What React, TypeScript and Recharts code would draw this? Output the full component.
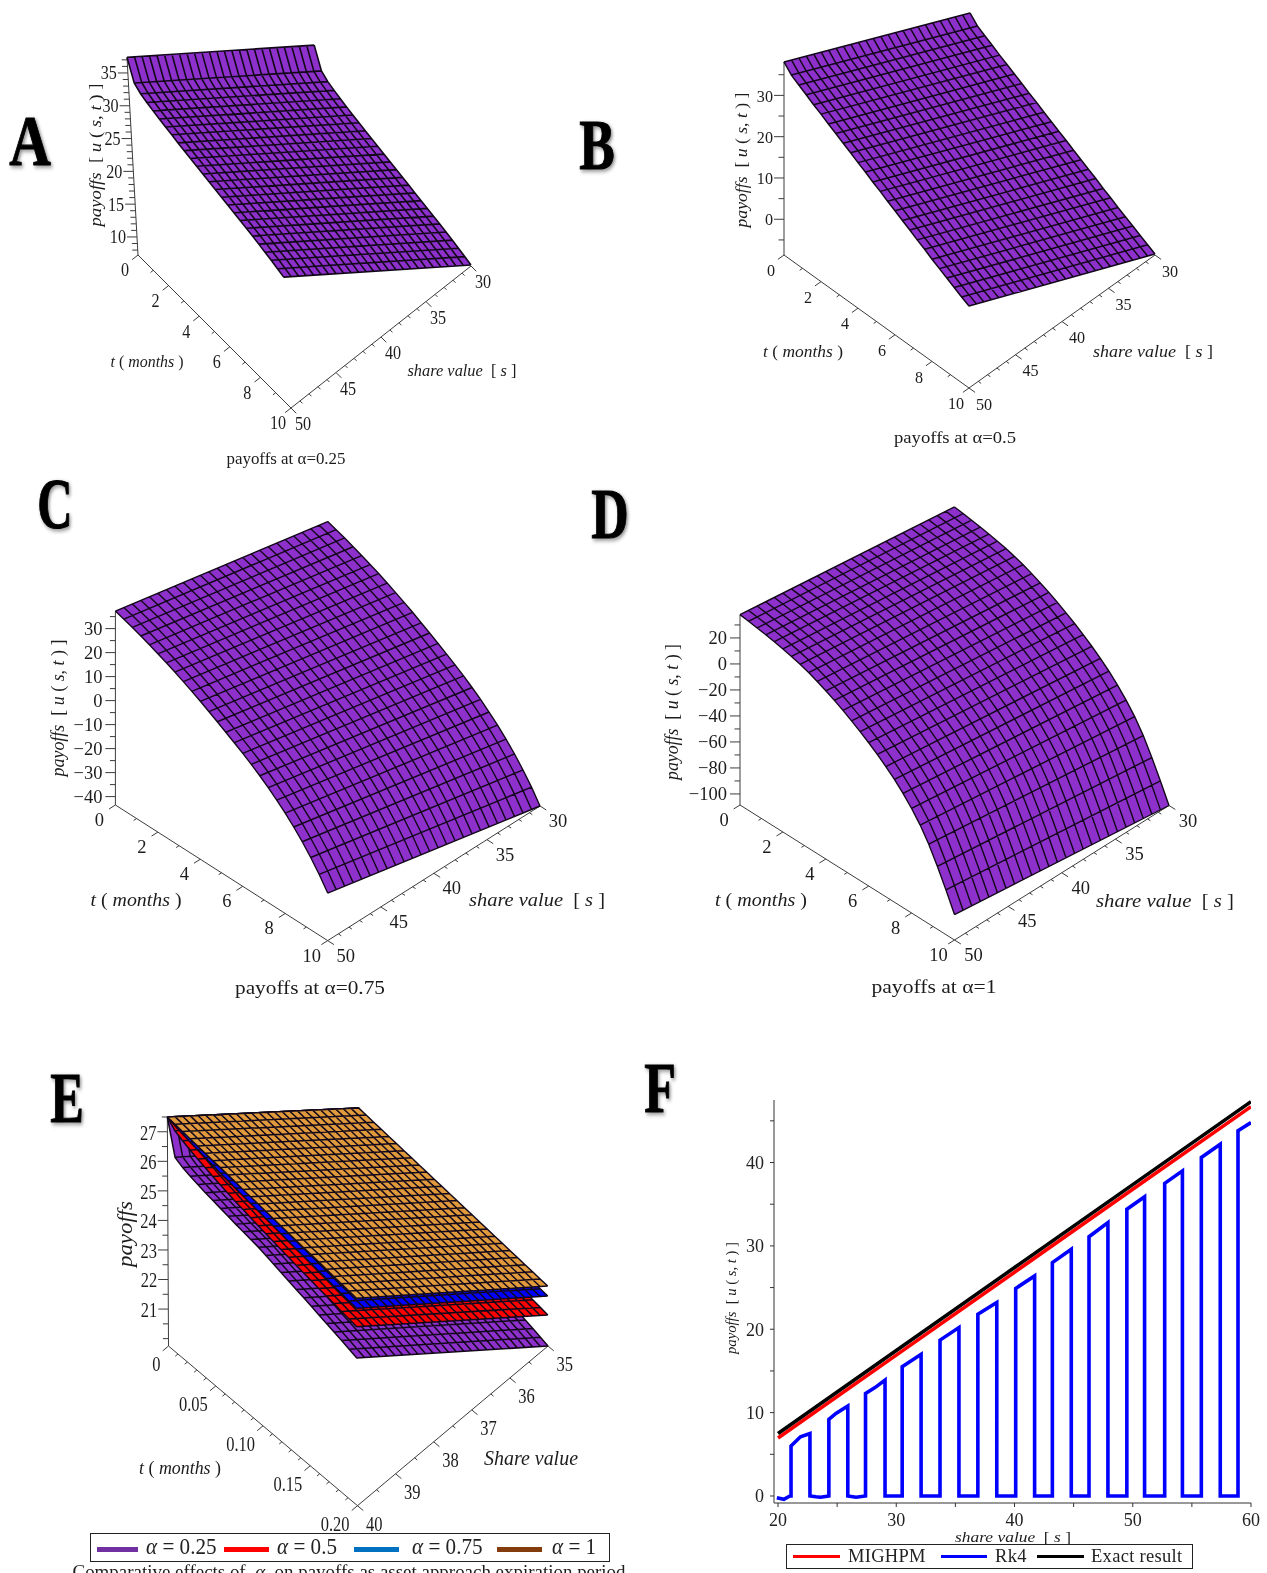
import React from 'react';
import { ComposedChart, LineChart, Line, Area, Scatter, XAxis, YAxis, Legend, Label } from 'recharts';

// ---------- surface data: share value mesh, time mesh, payoff along the two long edges ----------
const S_MESH = [30,30.8,31.6,32.4,33.2,34,34.8,35.6,36.4,37.2,38,38.8,39.6,40.4,41.2,42,42.8,43.6,44.4,45.2,46,46.8,47.6,48.4,49.2,50];
const T_MESH = [0,0.4,0.8,1.2,1.6,2,2.4,2.8,3.2,3.6,4,4.4,4.8,5.2,5.6,6,6.4,6.8,7.2,7.6,8,8.4,8.8,9.2,9.6,10];
const S_MESH_E = [35,35.2,35.4,35.6,35.8,36,36.2,36.4,36.6,36.8,37,37.2,37.4,37.6,37.8,38,38.2,38.4,38.6,38.8,39,39.2,39.4,39.6,39.8,40];
const T_MESH_E = [0,0.008,0.016,0.024,0.032,0.04,0.048,0.056,0.064,0.072,0.08,0.088,0.096,0.104,0.112,0.12,0.128,0.136,0.144,0.152,0.16,0.168,0.176,0.184,0.192,0.2];

const A_HIGH = [37.4,34.4,33.7,33.3,32.95,32.65,32.35,32.1,31.8,31.55,31.3,31.05,30.8,30.55,30.3,30.05,29.8,29.55,29.3,29.05,28.8,28.5,28.2,27.9,27.55,27.2];
const A_LOW = [17.6,14.6,13.9,13.5,13.15,12.85,12.55,12.3,12,11.75,11.5,11.25,11,10.75,10.5,10.25,10,9.75,9.5,9.25,9,8.7,8.4,8.1,7.75,7.4];
const B_HIGH = [38.1,36.2,35.1,34,32.9,31.9,30.8,29.8,28.7,27.7,26.6,25.6,24.5,23.5,22.4,21.4,20.3,19.3,18.2,17.2,16.1,15.1,14.1,13.1,12.1,11.2];
const B_LOW = [17.75,15.9,14.8,13.8,12.7,11.7,10.7,9.7,8.6,7.65,6.6,5.6,4.55,3.6,2.55,1.55,0.5,-0.45,-1.55,-2.5,-3.6,-4.55,-5.5,-6.5,-7.45,-8.4];
const C_HIGH = [37.3,36.2,35,33.7,32.3,30.8,29.3,27.7,26,24.2,22.3,20.3,18.3,16.2,14.1,11.9,9.6,7.1,4.4,1.5,-1.7,-5.2,-9.1,-13.4,-18.2,-23.7];
const C_LOW = [18.5,17.4,16.2,14.8,13.4,11.9,10.4,8.7,7,5.2,3.3,1.2,-0.8,-2.9,-5.1,-7.3,-9.6,-12.2,-14.9,-17.9,-21.1,-24.7,-28.6,-33,-37.9,-43.5];
const D_HIGH = [37.9,37,36,34.9,33.7,32.3,30.7,28.8,26.6,23.9,20.9,17.7,14.1,10.2,6.1,1.7,-3.1,-8.3,-14.1,-20.7,-28.1,-36.7,-47.3,-60.1,-74.1,-88.9];
const D_LOW = [17.3,16.4,15.4,14.3,13.1,11.7,10.2,8.3,6.1,3.4,0.4,-2.7,-6.3,-10.2,-14.2,-18.6,-23.4,-28.5,-34.3,-40.8,-48.2,-56.7,-67.2,-79.9,-93.8,-108.5];
const E1_HIGH = [27.5,26.35,26.22,26.14,26.08,26.02,25.97,25.92,25.87,25.82,25.78,25.73,25.69,25.62,25.55,25.48,25.41,25.34,25.27,25.2,25.12,25.05,24.98,24.91,24.83,24.75];
const E1_LOW = [22.4,21.35,21.22,21.14,21.08,21.02,20.97,20.92,20.87,20.82,20.78,20.73,20.69,20.62,20.55,20.48,20.41,20.34,20.27,20.2,20.12,20.05,19.98,19.91,19.83,19.75];
const E2_HIGH = [27.5,27.25,27.13,27.03,26.94,26.86,26.78,26.71,26.65,26.58,26.53,26.47,26.41,26.36,26.31,26.26,26.21,26.16,26.11,26.07,26.02,25.98,25.94,25.89,25.85,25.81];
const E2_LOW = [22.4,22.24,22.12,22.02,21.93,21.85,21.77,21.7,21.64,21.57,21.52,21.46,21.4,21.35,21.3,21.25,21.2,21.15,21.1,21.06,21.01,20.97,20.93,20.88,20.84,20.8];
const E3_HIGH = [27.5,27.42,27.36,27.3,27.25,27.2,27.16,27.11,27.07,27.03,26.99,26.95,26.91,26.87,26.83,26.79,26.75,26.71,26.68,26.64,26.6,26.57,26.53,26.5,26.46,26.43];
const E3_LOW = [22.4,22.33,22.28,22.23,22.19,22.15,22.12,22.08,22.04,22.01,21.97,21.93,21.9,21.86,21.82,21.78,21.74,21.71,21.68,21.64,21.6,21.57,21.53,21.5,21.47,21.44];
const E4_HIGH = [27.5,27.47,27.44,27.41,27.38,27.35,27.32,27.3,27.27,27.24,27.21,27.18,27.15,27.12,27.09,27.06,27.03,27,26.97,26.95,26.92,26.89,26.86,26.83,26.8,26.77];
const E4_LOW = [22.4,22.38,22.35,22.33,22.3,22.28,22.25,22.23,22.2,22.18,22.15,22.13,22.1,22.08,22.05,22.03,22,21.98,21.95,21.93,21.9,21.88,21.85,21.83,21.8,21.78];

// ---------- tick values ----------
const T_TICKS = [0,2,4,6,8,10];
const S_TICKS = [30,35,40,45,50];
const A_U_TICKS = [10,15,20,25,30,35];
const B_U_TICKS = [0,10,20,30];
const C_U_TICKS = [-40,-30,-20,-10,0,10,20,30];
const D_U_TICKS = [-100,-80,-60,-40,-20,0,20];
const E_U_TICKS = [21,22,23,24,25,26,27];
const E_T_TICKS = [0,0.05,0.1,0.15,0.2];
const E_S_TICKS = [35,36,37,38,39,40];

// ---------- panel F series ----------
const F_EXACT_S = [20,30,40,50,60];
const F_EXACT_U = [7.5,17.45,27.4,37.35,47.3];
const F_MIGHPM_S = [20,30,40,50,60];
const F_MIGHPM_U = [6.96,16.9,26.85,36.8,46.7];
const F_RK4_S = [19.9,20.5,21,21.1,21.1,21.9,22.7,22.7,23.2,23.6,24.3,24.3,24.9,25.9,25.9,26.6,27.4,27.4,28.2,29.05,29.05,30.5,30.5,32.1,32.1,33.7,33.7,35.3,35.3,36.9,36.9,38.5,38.5,40.1,40.1,41.7,41.7,43.2,43.2,44.8,44.8,46.3,46.3,47.9,47.9,49.5,49.5,51,51,52.7,52.7,54.2,54.2,55.8,55.8,57.4,57.4,58.9,58.9,60];
const F_RK4_U = [-0.2,-0.4,0,0,6,7.1,7.5,0,-0.1,-0.15,0,9.2,9.9,10.8,0,-0.15,0,12.3,13,13.9,0,0,15.5,17,0,0,18.7,20.2,0,0,21.8,23.2,0,0,24.9,26.4,0,0,28,29.6,0,0,31.1,32.8,0,0,34.4,35.9,0,0,37.5,39,0,0,40.6,42.2,0,0,43.8,44.8];
const F_X_TICKS = [20,25,30,35,40,45,50,55,60];
const F_Y_TICKS = [0,5,10,15,20,25,30,35,40,45];

const F_LEGEND_NAMES = ['MIGHPM','Rk4','Exact result'];
const E_LEGEND_NAMES = ['0.25','0.5','0.75','1'];

// ---------- styles and layout (separate from data) ----------
const SERIF = '"Liberation Serif", "Times New Roman", serif';
const PURPLE = '#8E30CC';
const MESH = '#12081a';
const AXIS = '#3c3c3c';
const F_COLORS = ['#ff0000','#0000ff','#000000'];
const E_LEGEND_COLORS = ['#7030a0','#ff0000','#0070c0','#843c0c'];

type Geo = { base:number[]; tEnd:number[]; sEnd:number[]; pxU:number; tilt:number; uBase:number; uTop:number;
  uMinor:number; tMinor:number; sMinor:number; font:number; sx:number; uDx:number; tOff:number[]; sOff:number[]; tAnchor?:string; meshW:number; };

const PANELS: any[] = [
  { s:S_MESH, t:T_MESH, layers:[{hi:A_HIGH,lo:A_LOW,fill:PURPLE}], uTicks:A_U_TICKS, tTicks:T_TICKS, sTicks:S_TICKS,
    geo:{base:[138,255],tEnd:[291,408],sEnd:[471,266],pxU:6.56,tilt:-0.365,uBase:7.25,uTop:37.4,uMinor:1,tMinor:1,sMinor:1,font:19,sx:0.85,uDx:-11,tOff:[-13,15],sOff:[12,16],meshW:1.6} as Geo },
  { s:S_MESH, t:T_MESH, layers:[{hi:B_HIGH,lo:B_LOW,fill:PURPLE}], uTicks:B_U_TICKS, tTicks:T_TICKS, sTicks:S_TICKS,
    geo:{base:[784,255],tEnd:[969,388],sEnd:[1155,255],pxU:4.13,tilt:0,uBase:-8.65,uTop:38.1,uMinor:5,tMinor:1,sMinor:1,font:17,sx:0.95,uDx:-11,tOff:[-13,15],sOff:[15,15.5],meshW:1.5} as Geo },
  { s:S_MESH, t:T_MESH, layers:[{hi:C_HIGH,lo:C_LOW,fill:PURPLE}], uTicks:C_U_TICKS, tTicks:T_TICKS, sTicks:S_TICKS,
    geo:{base:[115.4,805],tEnd:[327.7,940.6],sEnd:[540,806],pxU:2.4,tilt:0,uBase:-43.5,uTop:37.3,uMinor:5,tMinor:1,sMinor:1,font:18.5,sx:1,uDx:-13,tOff:[-16,15],sOff:[18,15],meshW:1.4} as Geo },
  { s:S_MESH, t:T_MESH, layers:[{hi:D_HIGH,lo:D_LOW,fill:PURPLE}], uTicks:D_U_TICKS, tTicks:T_TICKS, sTicks:S_TICKS,
    geo:{base:[740,805],tEnd:[954.5,940],sEnd:[1169,805.5],pxU:1.3,tilt:0,uBase:-108.5,uTop:37.9,uMinor:10,tMinor:1,sMinor:1,font:18.5,sx:1,uDx:-13,tOff:[-16,15],sOff:[19,15],meshW:1.4} as Geo },
  { s:S_MESH_E, t:T_MESH_E, uTicks:E_U_TICKS, tTicks:E_T_TICKS, sTicks:E_S_TICKS,
    layers:[{hi:E1_HIGH,lo:E1_LOW,fill:PURPLE},{hi:E2_HIGH,lo:E2_LOW,fill:'#ff0000'},{hi:E3_HIGH,lo:E3_LOW,fill:'#0000ff'},{hi:E4_HIGH,lo:E4_LOW,fill:'#e09a3c'}],
    tFormat:(v:number)=> v===0 ? '0' : v.toFixed(2),
    geo:{base:[168.5,1346],tEnd:[357.5,1505.7],sEnd:[548,1346],pxU:29.55,tilt:-0.15,uBase:19.75,uTop:27.5,uMinor:0.5,tMinor:0.01,sMinor:0.5,font:22,sx:0.75,uDx:-11,tOff:[-8,17],sOff:[16.7,17],tAnchor:'end',meshW:1.5} as Geo },
];

// text rows: *...* marks italic runs
const LETTERS = [
  {text:'A',x:30,y:141,sx:0.8},{text:'B',x:597,y:145,sx:0.74},{text:'C',x:55,y:503,sx:0.68},
  {text:'D',x:610,y:514,sx:0.72},{text:'E',x:67,y:1098,sx:0.7},{text:'F',x:660,y:1088,sx:0.72},
];
const AXIS_TEXT = [
  {text:'*payoffs*  [ *u* ( *s*, *t* ) ]',x:95,y:155,rot:-90,len:143,size:17},
  {text:'*t* ( *months* )',x:147,y:361,len:73,size:17},
  {text:'*share value*  [ *s* ]',x:462,y:370,len:109,size:17},
  {text:'payoffs at α=0.25',x:286,y:458,len:119,size:16},
  {text:'*payoffs*  [ *u* ( *s*, *t* ) ]',x:741,y:160,rot:-90,len:135,size:17},
  {text:'*t* ( *months* )',x:803,y:351,len:80,size:17},
  {text:'*share value*  [ *s* ]',x:1153,y:351,len:120,size:17},
  {text:'payoffs at α=0.5',x:955,y:437,len:122,size:16},
  {text:'*payoffs*  [ *u* ( *s*, *t* ) ]',x:58,y:708,rot:-90,len:137,size:18},
  {text:'*t* ( *months* )',x:136,y:900,len:91,size:18},
  {text:'*share value*  [ *s* ]',x:537,y:900,len:136,size:18},
  {text:'payoffs at α=0.75',x:310,y:988,len:150,size:18},
  {text:'*payoffs*  [ *u* ( *s*, *t* ) ]',x:672,y:712,rot:-90,len:136,size:18},
  {text:'*t* ( *months* )',x:761,y:900,len:92,size:18},
  {text:'*share value*  [ *s* ]',x:1165,y:901,len:138,size:18},
  {text:'payoffs at α=1',x:934,y:987,len:125,size:18},
  {text:'*payoffs*',x:125,y:1234,rot:-90,len:66,size:21},
  {text:'*t* ( *months* )',x:180,y:1467,len:82,size:19},
  {text:'*Share value*',x:531,y:1458,len:94,size:21},
  {text:'Comparative effects of  *α*  on payoffs as asset approach expiration period',x:349,y:1572,len:553,size:18},
];

// ---------- geometry helpers ----------
function projector(p: any) {
  const g: Geo = p.geo;
  const sMin = p.s[0], sMax = p.s[p.s.length - 1], tMin = p.t[0], tMax = p.t[p.t.length - 1];
  return (s: number, t: number, u: number) => {
    const fs = (sMax - s) / (sMax - sMin), ft = (t - tMin) / (tMax - tMin), v = u - g.uBase;
    return {
      x: g.base[0] + ft * (g.tEnd[0] - g.base[0]) + fs * (g.sEnd[0] - g.tEnd[0]) + v * g.tilt,
      y: g.base[1] + ft * (g.tEnd[1] - g.base[1]) + fs * (g.sEnd[1] - g.tEnd[1]) - v * g.pxU,
    };
  };
}
const gap = (pt: {x:number}) => ({ x: pt.x, y: null as any });

function meshRows(p: any, layer: any) {
  const P = projector(p);
  const rows: any[] = [];
  const sMin = p.s[0], sMax = p.s[p.s.length - 1];
  p.t.forEach((t: number, j: number) => {
    const a = P(sMin, t, layer.lo[j]), b = P(sMax, t, layer.hi[j]);
    rows.push(a, b, gap(b));
  });
  p.s.forEach((s: number) => {
    const f = (s - sMin) / (sMax - sMin);
    let last: any = null;
    p.t.forEach((t: number, j: number) => {
      last = P(s, t, layer.lo[j] + f * (layer.hi[j] - layer.lo[j]));
      rows.push(last);
    });
    rows.push(gap(last));
  });
  return rows;
}

function bandRows(p: any, layer: any) {
  const P = projector(p);
  const sMin = p.s[0], sMax = p.s[p.s.length - 1];
  const ring = [
    ...p.t.map((t: number, j: number) => P(sMax, t, layer.hi[j])),
    ...[...p.t].reverse().map((t: number, j: number) => P(sMin, t, layer.lo[p.t.length - 1 - j])),
  ];
  const xs = Array.from(new Set(ring.map((q: any) => q.x))).sort((a: any, b: any) => a - b) as number[];
  return xs.map((x) => {
    let lo = Infinity, hi = -Infinity;
    ring.forEach((a: any, i: number) => {
      const b = ring[(i + 1) % ring.length];
      if (x < Math.min(a.x, b.x) || x > Math.max(a.x, b.x)) return;
      const ys = a.x === b.x ? [a.y, b.y] : [a.y + ((x - a.x) / (b.x - a.x)) * (b.y - a.y)];
      ys.forEach((y: number) => { lo = Math.min(lo, y); hi = Math.max(hi, y); });
    });
    return { x, band: [lo, hi] };
  });
}

function stepValues(from: number, to: number, step: number) {
  const out: number[] = [];
  for (let i = Math.ceil(from / step - 1e-6); i * step <= to + 1e-6; i++) out.push(i * step);
  return out;
}

function axisRows(p: any) {
  const g: Geo = p.geo;
  const P = projector(p);
  const sMin = p.s[0], sMax = p.s[p.s.length - 1], tMin = p.t[0], tMax = p.t[p.t.length - 1];
  const rows: any[] = [];
  const seg = (a: any, b: any) => { rows.push(a, b, gap(b)); };
  const unit = (a: number[], b: number[]) => { const dx = b[0]-a[0], dy = b[1]-a[1], n = Math.hypot(dx, dy); return [dx/n, dy/n]; };
  const along = unit(g.sEnd, g.tEnd);     // +s direction
  const across = unit(g.base, g.tEnd);    // +t direction
  const isMajor = (v: number, ticks: number[]) => ticks.some((m) => Math.abs(m - v) < 1e-6);

  seg(P(sMax, tMin, g.uBase), P(sMax, tMin, g.uTop));
  seg(P(sMax, tMin, g.uBase), P(sMax, tMax, g.uBase));
  seg(P(sMax, tMax, g.uBase), P(sMin, tMax, g.uBase));

  stepValues(g.uBase, g.uTop, g.uMinor).forEach((u) => {
    const q = P(sMax, tMin, u), len = isMajor(u, p.uTicks) ? 10 : 5.5;
    seg(q, { x: q.x - len, y: q.y });
  });
  stepValues(tMin, tMax, g.tMinor).forEach((t) => {
    const q = P(sMax, t, g.uBase), len = isMajor(t, p.tTicks) ? 7.5 : 3.5;
    seg(q, { x: q.x + along[0] * len, y: q.y + along[1] * len });
  });
  stepValues(sMin, sMax, g.sMinor).forEach((s) => {
    const q = P(s, tMax, g.uBase), len = isMajor(s, p.sTicks) ? 7.5 : 3.5;
    seg(q, { x: q.x + across[0] * len, y: q.y + across[1] * len });
  });
  return rows;
}

function tickLabelRows(p: any) {
  const g: Geo = p.geo;
  const P = projector(p);
  const sMax = p.s[p.s.length - 1], tMin = p.t[0], tMax = p.t[p.t.length - 1];
  const base = { size: g.font, sx: g.sx };
  const minus = (v: number) => String(v).replace('-', '−');
  const rows: any[] = [];
  p.uTicks.forEach((u: number) => {
    const q = P(sMax, tMin, u);
    rows.push({ ...base, text: minus(u), x: q.x + g.uDx, y: q.y, anchor: 'end' });
  });
  p.tTicks.forEach((t: number) => {
    const q = P(sMax, t, g.uBase);
    rows.push({ ...base, text: p.tFormat ? p.tFormat(t) : String(t), x: q.x + g.tOff[0], y: q.y + g.tOff[1], anchor: g.tAnchor });
  });
  p.sTicks.forEach((s: number) => {
    const q = P(s, tMax, g.uBase);
    rows.push({ ...base, text: String(s), x: q.x + g.sOff[0], y: q.y + g.sOff[1] });
  });
  return rows;
}

// ---------- text drawing ----------
function richText(r: any, x: number, y: number) {
  const parts = String(r.text).split('*');
  const tf = `translate(${x} ${y}) rotate(${r.rot || 0}) scale(${r.sx || 1} 1)`;
  return (
    <text transform={tf} x={0} y={0} textAnchor={r.anchor || 'middle'} dominantBaseline="central"
      fontFamily={SERIF} fontSize={r.size} fill={r.fill || '#1c1c1c'} fontWeight={r.weight || 'normal'}
      textLength={r.len} lengthAdjust={r.len ? 'spacingAndGlyphs' : undefined}
      stroke={r.stroke} strokeWidth={r.stroke ? 1 : undefined}
      style={{ whiteSpace: 'pre', filter: r.shadow ? 'drop-shadow(2px 2px 2px rgba(0,0,0,0.45))' : undefined }}>
      {parts.map((part, i) => (part ? <tspan key={i} fontStyle={i % 2 ? 'italic' : 'normal'}>{part}</tspan> : null))}
    </text>
  );
}
const LabelShape = (props: any) => richText(props.payload, props.cx, props.cy);

const letterRows = LETTERS.map((l) => ({ ...l, size: 72, weight: 'bold', fill: '#000', stroke: '#000', shadow: true }));
const textRows = [...letterRows, ...AXIS_TEXT, ...PANELS.flatMap(tickLabelRows)];

// ---------- legends ----------
const swatch = (left: number, width: number, color: string, h: number, top: number) => (
  <div key={color + left} style={{ position: 'absolute', left, width, top, height: h, background: color }} />
);
const E_LEGEND_X = [[6,41,55],[133,45,186],[263,45,321],[406,45,461]];
function ELegend() {
  return (
    <div style={{ position: 'relative', width: 520, height: 29, border: '1.5px solid #222', boxSizing: 'border-box', fontFamily: SERIF, background: '#fff' }}>
      {E_LEGEND_NAMES.map((n, i) => (
        <React.Fragment key={n}>
          {swatch(E_LEGEND_X[i][0], E_LEGEND_X[i][1], E_LEGEND_COLORS[i], 5, 13)}
          <span style={{ position: 'absolute', left: E_LEGEND_X[i][2], top: -1, fontSize: 24, whiteSpace: 'pre', color: '#222', transform: 'scaleX(0.88)', transformOrigin: 'left' }}>
            <i>α</i>{` = ${n}`}
          </span>
        </React.Fragment>
      ))}
    </div>
  );
}
const F_LEGEND_X = [[6,47,61],[154,46,208],[250,47,304]];
function FLegend() {
  return (
    <div style={{ position: 'relative', width: 407, height: 25, border: '1.5px solid #222', boxSizing: 'border-box', fontFamily: SERIF, background: '#fff' }}>
      {F_LEGEND_NAMES.map((n, i) => (
        <React.Fragment key={n}>
          {swatch(F_LEGEND_X[i][0], F_LEGEND_X[i][1], F_COLORS[i], 3, 10)}
          <span style={{ position: 'absolute', left: F_LEGEND_X[i][2], top: 1, fontSize: 18.5, letterSpacing: 0.3, whiteSpace: 'pre', color: '#222' }}>{n}</span>
        </React.Fragment>
      ))}
    </div>
  );
}

// ---------- chart ----------
const zipRows = (xs: number[], ys: number[]) => xs.map((x, i) => ({ s: x, u: ys[i] }));

function PageChart() {
  let z = 1000;
  const series: any[] = [];
  PANELS.forEach((p, pi) => {
    series.push(
      <Line key={`axis${pi}`} data={axisRows(p)} dataKey="y" stroke={AXIS} strokeWidth={1} dot={false} activeDot={false}
        isAnimationActive={false} legendType="none" zIndex={z++} />
    );
    p.layers.forEach((layer: any, li: number) => {
      series.push(
        <Area key={`fill${pi}-${li}`} data={bandRows(p, layer)} dataKey="band" type="linear" stroke="none" fill={layer.fill}
          fillOpacity={1} dot={false} activeDot={false} isAnimationActive={false} legendType="none" zIndex={z++} />
      );
      series.push(
        <Line key={`mesh${pi}-${li}`} data={meshRows(p, layer)} dataKey="y" stroke={MESH} strokeWidth={p.geo.meshW} dot={false}
          activeDot={false} isAnimationActive={false} legendType="none" zIndex={z++} />
      );
    });
  });
  return (
    <ComposedChart width={1267} height={1573} margin={{ top: 0, right: 0, bottom: 0, left: 0 }}
      style={{ position: 'absolute', left: 0, top: 0 }}>
      <XAxis hide type="number" dataKey="x" domain={[0, 1267]} allowDataOverflow />
      <YAxis hide type="number" dataKey="y" domain={[0, 1573]} reversed allowDataOverflow />
      {series}
      <Scatter data={textRows} shape={LabelShape} isAnimationActive={false} legendType="none" zIndex={z++} />
      <Legend layout="vertical" align="center" verticalAlign="middle" content={<ELegend />}
        wrapperStyle={{ position: 'absolute', left: 90, top: 1533, width: 520, height: 29, margin: 0 }} />
    </ComposedChart>
  );
}

function PanelF() {
  // chart occupies x 700..1267, y 1090..1573 of the page
  const tickStyle = { fontFamily: SERIF, fontSize: 18, fill: '#222' };
  const hideOdd = (v: number) => (v % 10 === 0 ? String(v) : '');
  return (
    <LineChart width={567} height={483} margin={{ top: 10, right: 16, bottom: 40, left: 40 }}
      style={{ position: 'absolute', left: 700, top: 1090 }}>
      <XAxis type="number" dataKey="s" domain={[19.66, 60]} allowDataOverflow ticks={F_X_TICKS} tickFormatter={hideOdd}
        height={30} tick={tickStyle} tickSize={4} tickMargin={6} interval={0} stroke="#333">
        <Label content={() => richText({ text: '*share value*  [ *s* ]', size: 15, len: 116 }, 313, 447)} />
      </XAxis>
      <YAxis type="number" dataKey="u" domain={[-0.84, 47.5]} allowDataOverflow ticks={F_Y_TICKS} tickFormatter={hideOdd}
        width={34} tick={tickStyle} tickSize={4} tickMargin={6} interval={0} stroke="#333">
        <Label content={() => richText({ text: '*payoffs*  [ *u* ( *s*, *t* ) ]', size: 15, len: 112, rot: -90 }, 31, 208)} />
      </YAxis>
      <Line data={zipRows(F_RK4_S, F_RK4_U)} dataKey="u" name="Rk4" stroke={F_COLORS[1]} strokeWidth={3.6} dot={false} activeDot={false} isAnimationActive={false} />
      <Line data={zipRows(F_MIGHPM_S, F_MIGHPM_U)} dataKey="u" name="MIGHPM" stroke={F_COLORS[0]} strokeWidth={3.6} dot={false} activeDot={false} isAnimationActive={false} />
      <Line data={zipRows(F_EXACT_S, F_EXACT_U)} dataKey="u" name="Exact result" stroke={F_COLORS[2]} strokeWidth={3.6} dot={false} activeDot={false} isAnimationActive={false} />
      <Legend layout="vertical" align="center" verticalAlign="middle" content={<FLegend />}
        wrapperStyle={{ position: 'absolute', left: 86, top: 454, width: 407, height: 25, margin: 0 }} />
    </LineChart>
  );
}

export default function App() {
  return (
    <div style={{ position: 'absolute', left: 0, top: 0, width: 1267, height: 1573, overflow: 'hidden', background: '#fff', filter: 'blur(0.35px)' }}>
      <PageChart />
      <PanelF />
    </div>
  );
}
